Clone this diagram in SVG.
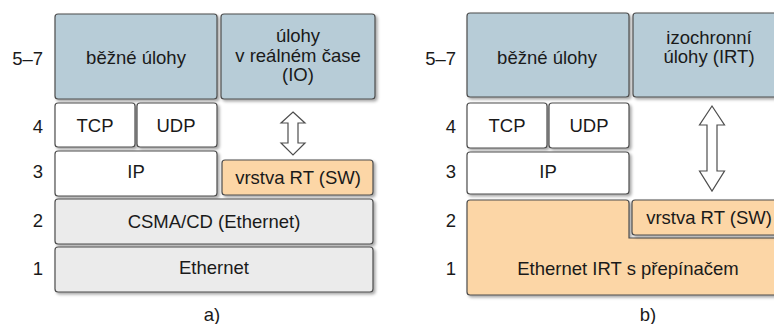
<svg xmlns="http://www.w3.org/2000/svg" width="774" height="324" viewBox="0 0 774 324">
  <defs>
    <filter id="shadow" x="-10%" y="-20%" width="130%" height="150%">
      <feDropShadow dx="2" dy="2" stdDeviation="1.8" flood-color="#000" flood-opacity="0.35"/>
    </filter>
    <style>
      .box { stroke: #4d4d4d; stroke-width: 1.2; filter: url(#shadow); }
      .app { fill: #b7ccd7; }
      .plain { fill: #ffffff; }
      .rt { fill: #fcd6a6; }
      .eth { fill: #ebebeb; }
      .arrow { fill: #ffffff; stroke: #4d4d4d; stroke-width: 1.2; stroke-linejoin: miter; }
      text { font-family: "Liberation Sans", Arial, sans-serif; font-size: 18.5px; fill: #1a1a1a; text-anchor: middle; }
      .lvl { text-anchor: end; }
    </style>
  </defs>

  <rect width="774" height="324" fill="#ffffff"/>

  <!-- panel a) -->
  <g id="a-levels">
    <text class="lvl" x="43" y="65">5–7</text>
    <text class="lvl" x="43" y="133">4</text>
    <text class="lvl" x="43" y="178">3</text>
    <text class="lvl" x="43" y="227">2</text>
    <text class="lvl" x="43" y="275">1</text>
  </g>
  <g id="a-apps">
    <rect class="box app" x="55" y="14" width="162" height="85" rx="3"/>
    <text x="136" y="64">běžné úlohy</text>
  </g>
  <g id="a-rtapps">
    <rect class="box app" x="221" y="14" width="154" height="85" rx="3"/>
    <text x="298" y="42">úlohy</text>
    <text x="298" y="62">v reálném čase</text>
    <text x="298" y="81">(IO)</text>
  </g>
  <g id="a-tcp">
    <rect class="box plain" x="55" y="103" width="80" height="44" rx="3"/>
    <text x="95" y="132">TCP</text>
  </g>
  <g id="a-udp">
    <rect class="box plain" x="137" y="103" width="80" height="44" rx="3"/>
    <text x="176" y="132">UDP</text>
  </g>
  <g id="a-ip">
    <rect class="box plain" x="55" y="151" width="162" height="45" rx="3"/>
    <text x="136" y="178">IP</text>
  </g>
  <g id="a-rtlayer">
    <rect class="box rt" x="222" y="160" width="151" height="35" rx="3"/>
    <text x="298" y="184">vrstva RT (SW)</text>
  </g>
  <g id="a-csma">
    <rect class="box eth" x="55" y="199" width="318" height="45" rx="3"/>
    <text x="214" y="228">CSMA/CD (Ethernet)</text>
  </g>
  <g id="a-ethernet">
    <rect class="box eth" x="55" y="247" width="318" height="45" rx="3"/>
    <text x="214" y="274">Ethernet</text>
  </g>
  <text id="a-caption" x="212" y="321">a)</text>

  <!-- panel b) -->
  <g id="b-levels">
    <text class="lvl" x="456" y="65">5–7</text>
    <text class="lvl" x="456" y="133">4</text>
    <text class="lvl" x="456" y="178">3</text>
    <text class="lvl" x="456" y="227">2</text>
    <text class="lvl" x="456" y="275">1</text>
  </g>
  <g id="b-apps">
    <rect class="box app" x="467" y="13" width="162" height="84" rx="3"/>
    <text x="547" y="64">běžné úlohy</text>
  </g>
  <g id="b-irtapps">
    <rect class="box app" x="633" y="13" width="155" height="84" rx="3"/>
    <text x="709" y="44">izochronní</text>
    <text x="709" y="63">úlohy (IRT)</text>
  </g>
  <g id="b-tcp">
    <rect class="box plain" x="467" y="103" width="80" height="45" rx="3"/>
    <text x="507" y="132">TCP</text>
  </g>
  <g id="b-udp">
    <rect class="box plain" x="549" y="103" width="80" height="45" rx="3"/>
    <text x="589" y="132">UDP</text>
  </g>
  <g id="b-ip">
    <rect class="box plain" x="467" y="152" width="162" height="42" rx="3"/>
    <text x="548" y="178">IP</text>
  </g>
  <g id="b-ethirt">
    <path class="box rt" d="M470,200 H626 Q629,200 629,203 V238 H790 V295 H470 Q467,295 467,292 V203 Q467,200 470,200 Z"/>
    <text x="628" y="275">Ethernet IRT s přepínačem</text>
  </g>
  <g id="b-rtlayer">
    <rect class="box rt" x="632" y="200" width="160" height="35" rx="3"/>
    <text x="709" y="224">vrstva RT (SW)</text>
  </g>
  <text id="b-caption" x="648" y="321">b)</text>

  <!-- connectors -->
  <g id="connectors">
    <path class="arrow" d="M293,112 L305,123 L298,123 L298,143 L305,143 L293,155 L281,143 L288,143 L288,123 L281,123 Z"/>
    <path class="arrow" d="M712,106 L724.5,125 L717,125 L717,171 L724.5,171 L712,191 L699.5,171 L707,171 L707,125 L699.5,125 Z"/>
  </g>
</svg>
